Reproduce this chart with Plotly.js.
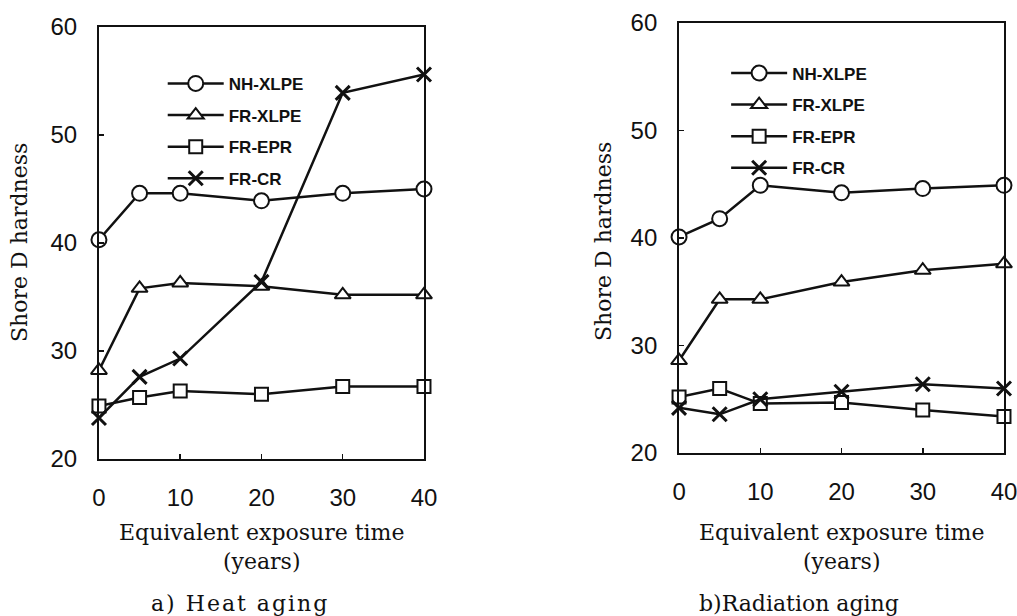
<!DOCTYPE html>
<html>
<head>
<meta charset="utf-8">
<script src="https://cdn.plot.ly/plotly-3.0.1.min.js"></script>
<style>
html,body{margin:0;padding:0;background:#fff;}
#chart{width:1017px;height:616px;}
text.annotation-text[data-unformatted="a) Heat aging"]{letter-spacing:2px;}
</style>
</head>
<body>
<div id="chart"></div>
<script>
// Equivalent exposure time (years)
const years = [0, 5, 10, 20, 30, 40];
const seriesNames = ["NH-XLPE", "FR-XLPE", "FR-EPR", "FR-CR"];

// a) Heat aging - Shore D hardness
const heatNH  = [40.3, 44.6, 44.6, 43.9, 44.6, 45.0];
const heatFRX = [28.2, 35.8, 36.3, 36.0, 35.2, 35.2];
const heatEPR = [24.9, 25.7, 26.3, 26.0, 26.7, 26.7];
const heatCR  = [23.8, 27.6, 29.3, 36.4, 53.9, 55.6];

// b) Radiation aging - Shore D hardness
const radNH  = [40.1, 41.8, 44.9, 44.2, 44.6, 44.9];
const radFRX = [28.6, 34.3, 34.3, 35.9, 37.0, 37.6];
const radEPR = [25.2, 26.0, 24.6, 24.7, 24.0, 23.4];
const radCR  = [24.2, 23.6, 25.0, 25.7, 26.4, 26.0];

const xTicks = [0, 10, 20, 30, 40];
const yTicks = [20, 30, 40, 50, 60];
const xTitle = "Equivalent exposure time<br>(years)";
const yTitle = "Shore D hardness";
const captions = ["a) Heat aging", "b)Radiation aging"];

const sans = "Liberation Sans, Arial, sans-serif";
const serif = "DejaVu Serif, Liberation Serif, serif";
const ink = "#111";

const markerStyles = [
  {symbol: "circle", size: 15, color: "#fff", line: {color: ink, width: 2}},
  {symbol: "triangle-up", size: 14, color: "#fff", line: {color: ink, width: 2}},
  {symbol: "square", size: 13, color: "#fff", line: {color: ink, width: 2}},
  {symbol: "x-thin", size: 14, color: ink, line: {color: ink, width: 3}}
];

function mk(y, i, xa, ya, lg) {
  return {
    x: years, y: y, name: seriesNames[i], type: "scatter", mode: "lines+markers",
    xaxis: xa, yaxis: ya, legend: lg, legendgroup: lg + i, cliponaxis: false,
    line: {color: ink, width: 2.5}, marker: markerStyles[i]
  };
}

const data = [
  mk(heatNH, 0, "x", "y", "legend"), mk(heatFRX, 1, "x", "y", "legend"),
  mk(heatEPR, 2, "x", "y", "legend"), mk(heatCR, 3, "x", "y", "legend"),
  mk(radNH, 0, "x2", "y2", "legend2"), mk(radFRX, 1, "x2", "y2", "legend2"),
  mk(radEPR, 2, "x2", "y2", "legend2"), mk(radCR, 3, "x2", "y2", "legend2")
];

function xax(domain, anchor) {
  return {domain: domain, anchor: anchor, range: [0, 40], tickvals: xTicks,
    showline: true, linecolor: ink, linewidth: 2, mirror: true,
    ticks: "inside", ticklen: 5, tickwidth: 1.5, tickcolor: ink,
    showgrid: false, zeroline: false, ticklabelstandoff: 16, ticklabeloverflow: "allow",
    tickfont: {family: sans, size: 24, color: ink}};
}
function yax(domain, anchor) {
  return {domain: domain, anchor: anchor, range: [20, 60], tickvals: yTicks,
    showline: true, linecolor: ink, linewidth: 2, mirror: true,
    ticks: "inside", ticklen: 5, tickwidth: 1.5, tickcolor: ink,
    showgrid: false, zeroline: false, ticklabelstandoff: 15, ticklabeloverflow: "allow",
    tickfont: {family: sans, size: 24, color: ink}};
}

const legendBase = {bgcolor: "rgba(0,0,0,0)", borderwidth: 0, xanchor: "left", yanchor: "top",
  font: {family: sans, size: 17, color: ink, weight: "bold"}, tracegroupgap: 6.5, itemwidth: 56};

const layout = {
  width: 1017, height: 616, margin: {l: 0, r: 0, t: 0, b: 0},
  paper_bgcolor: "#fff", plot_bgcolor: "#fff", showlegend: true,
  xaxis: xax([0.0973, 0.4169], "y"),
  yaxis: yax([0.2549, 0.9562], "x"),
  xaxis2: xax([0.6677, 0.9872], "y2"),
  yaxis2: yax([0.2646, 0.9627], "x2"),
  legend: Object.assign({x: 0.160, y: 0.893}, legendBase),
  legend2: Object.assign({x: 0.714, y: 0.910}, legendBase),
  annotations: [
    {text: xTitle, xref: "paper", yref: "paper", x: 0.2571, y: 1 - 547/616, showarrow: false,
     font: {family: serif, size: 22, color: ink}, xanchor: "center", yanchor: "middle"},
    {text: xTitle, xref: "paper", yref: "paper", x: 0.8275, y: 1 - 547/616, showarrow: false,
     font: {family: serif, size: 22, color: ink}, xanchor: "center", yanchor: "middle"},
    {text: yTitle, xref: "paper", yref: "paper", x: 20/1017, y: 1 - 243/616, showarrow: false, textangle: -90,
     font: {family: serif, size: 22, color: ink}, xanchor: "center", yanchor: "middle"},
    {text: yTitle, xref: "paper", yref: "paper", x: 604/1017, y: 1 - 242/616, showarrow: false, textangle: -90,
     font: {family: serif, size: 22, color: ink}, xanchor: "center", yanchor: "middle"},
    {text: captions[0], xref: "paper", yref: "paper", x: 149/1017, y: 1 - 603/616, showarrow: false,
     font: {family: serif, size: 22, color: ink}, xanchor: "left", yanchor: "middle"},
    {text: captions[1], xref: "paper", yref: "paper", x: 697/1017, y: 1 - 603/616, showarrow: false,
     font: {family: serif, size: 22, color: ink}, xanchor: "left", yanchor: "middle"}
  ]
};

Plotly.newPlot("chart", data, layout, {displayModeBar: false, staticPlot: true});
</script>
</body>
</html>
